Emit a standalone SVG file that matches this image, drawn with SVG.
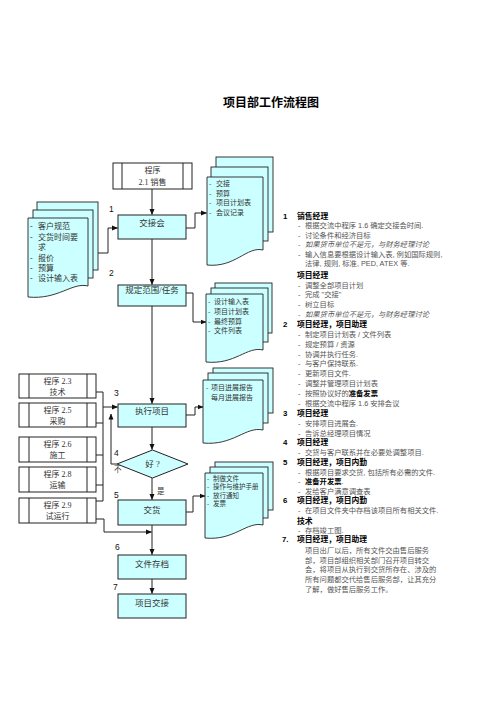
<svg xmlns="http://www.w3.org/2000/svg" width="496" height="701" viewBox="0 0 496 701">
<style>
.bx{fill:#ccffff;stroke:#222;stroke-width:1}
.pg{fill:#ccffff;stroke:#222;stroke-width:0.9}
.pr{fill:#fff;stroke:#222;stroke-width:1}
.ln{fill:none;stroke:#222;stroke-width:1}
.t{font-family:"Liberation Serif","Noto Sans CJK SC",serif;fill:#333}
.bt{font-size:8.5px;text-anchor:middle}
.pt{font-size:8px;text-anchor:middle}
.dt{font-size:7px}
.lb{font-family:"Liberation Sans",sans-serif;font-size:8.5px;fill:#111}
.r{font-family:"Liberation Sans","Noto Sans CJK SC",sans-serif;font-size:7.3px;fill:#555}
.h{font-family:"Liberation Sans","Noto Sans CJK SC",sans-serif;font-size:7.8px;font-weight:bold;fill:#000}
.it{font-style:italic}
</style>
<defs>
<marker id="arr" markerWidth="6" markerHeight="6" refX="5.5" refY="3" orient="auto" markerUnits="userSpaceOnUse"><path d="M0,0.5 L6,3 L0,5.5 Z" fill="#111"/></marker>
</defs>
<rect width="496" height="701" fill="#fff"/>
<text x="271" y="107" font-family="Liberation Sans,Noto Sans CJK SC,sans-serif" font-size="12" font-weight="bold" text-anchor="middle" fill="#000">项目部工作流程图</text>

<g id="connectors">
<path class="ln" d="M152,189 V214.5" marker-end="url(#arr)"/>
<path class="ln" d="M152,239 V284.5" marker-end="url(#arr)"/>
<path class="ln" d="M152,306 V403.5" marker-end="url(#arr)"/>
<path class="ln" d="M152,427 V449.5" marker-end="url(#arr)"/>
<path class="ln" d="M152,478 V499.5" marker-end="url(#arr)"/>
<path class="ln" d="M152,525 V554.5" marker-end="url(#arr)"/>
<path class="ln" d="M152,579 V593.5" marker-end="url(#arr)"/>
<path class="ln" d="M88,253 H108 V228 H117.5" marker-end="url(#arr)"/>
<path class="ln" d="M186,228 H195 V213 H206.5" marker-end="url(#arr)"/>
<path class="ln" d="M186,293 H193 V322 H206" marker-end="url(#arr)"/>
<path class="ln" d="M186,415 H195 V407 H203" marker-end="url(#arr)"/>
<path class="ln" d="M186,512 H193 V496 H205" marker-end="url(#arr)"/>
<path class="ln" d="M96,392 H103 V501 H96 M96,423 H103 M96,455 H103 M96,485 H103"/>
<path class="ln" d="M103,407 H117.5" marker-end="url(#arr)"/>
<path class="ln" d="M96,519 H104 V532 H151.5" marker-end="url(#arr)"/>
<path class="ln" d="M117,464 H111 V414" marker-end="url(#arr)"/>
</g>

<g id="labels">
<text class="lb" x="109" y="212">1</text>
<text class="lb" x="109" y="276">2</text>
<text class="lb" x="114" y="396">3</text>
<text class="lb" x="114" y="456">4</text>
<text class="t" x="114" y="472" font-size="7.5">不</text>
<text class="lb" x="114" y="498">5</text>
<text class="t" x="157" y="494" font-size="7.5">是</text>
<text class="lb" x="115" y="550">6</text>
<text class="lb" x="113" y="590">7</text>
</g>

<g id="prog21">
<rect class="pr" x="113" y="163" width="79" height="26"/>
<path class="ln" d="M122,163 V189 M183,163 V189"/>
<text class="t pt" x="152.5" y="173">程序</text>
<text class="t pt" x="152.5" y="185">2.1 销售</text>
</g>

<g id="jiaojiehui">
<rect class="bx" x="118" y="215" width="68" height="24"/>
<text class="t bt" x="152" y="226">交接会</text>
</g>
<g id="guiding">
<rect class="bx" x="118" y="285" width="68" height="21"/>
<text class="t bt" x="152" y="293">规定范围/任务</text>
</g>
<g id="zhixing">
<rect class="bx" x="118" y="404" width="68" height="23"/>
<text class="t bt" x="152" y="414">执行项目</text>
</g>
<g id="hao">
<path class="bx" d="M117,464 L152.5,450 L188,464 L152.5,478 Z"/>
<text class="t bt" x="152.5" y="467">好 ?</text>
</g>
<g id="jiaohuo">
<rect class="bx" x="118" y="500" width="68" height="25"/>
<text class="t bt" x="152" y="513">交货</text>
</g>
<g id="cundang">
<rect class="bx" x="118" y="555" width="68" height="24"/>
<text class="t bt" x="152" y="567">文件存档</text>
</g>
<g id="xiangmujiaojie">
<rect class="bx" x="118" y="594" width="68" height="24"/>
<text class="t bt" x="152" y="606">项目交接</text>
</g>

<g id="prog23">
<rect class="pr" x="19" y="374" width="77" height="24"/>
<path class="ln" d="M29,374 V398 M87,374 V398"/>
<text class="t pt" x="57.5" y="384">程序 2.3</text>
<text class="t pt" x="57.5" y="395">技术</text>
</g>
<g id="prog25">
<rect class="pr" x="19" y="403" width="77" height="24"/>
<path class="ln" d="M29,403 V427 M87,403 V427"/>
<text class="t pt" x="57.5" y="413">程序 2.5</text>
<text class="t pt" x="57.5" y="424">采购</text>
</g>
<g id="prog26">
<rect class="pr" x="19" y="437" width="77" height="25"/>
<path class="ln" d="M29,437 V462 M87,437 V462"/>
<text class="t pt" x="57.5" y="447">程序 2.6</text>
<text class="t pt" x="57.5" y="458">施工</text>
</g>
<g id="prog28">
<rect class="pr" x="19" y="467" width="77" height="25"/>
<path class="ln" d="M29,467 V492 M87,467 V492"/>
<text class="t pt" x="57.5" y="477">程序 2.8</text>
<text class="t pt" x="57.5" y="488">运输</text>
</g>
<g id="prog29">
<rect class="pr" x="19" y="498" width="77" height="25"/>
<path class="ln" d="M29,498 V523 M87,498 V523"/>
<text class="t pt" x="57.5" y="508">程序 2.9</text>
<text class="t pt" x="57.5" y="519">试运行</text>
</g>

<g id="doc-left">
<rect class="pg" x="37" y="202" width="61" height="68"/>
<rect class="pg" x="33" y="210" width="60" height="68"/>
<path class="pg" d="M28,218 H88 V286 C72,282 58,300 28,297 Z"/>
<g class="t" font-size="8">
<text x="30" y="229">-</text><text x="38" y="229">客户规范</text>
<text x="30" y="239.5">-</text><text x="38" y="239.5">交货时间要</text>
<text x="38" y="250">求</text>
<text x="30" y="260.5">-</text><text x="38" y="260.5">报价</text>
<text x="30" y="271">-</text><text x="38" y="271">预算</text>
<text x="30" y="281">-</text><text x="38" y="281">设计输入表</text>
</g>
</g>

<g id="doc1">
<rect class="pg" x="216" y="157" width="57" height="75"/>
<rect class="pg" x="211" y="167" width="57" height="74"/>
<path class="pg" d="M207,177 H263 V250 C247,246 235,268 207,265 Z"/>
<g class="t dt">
<text x="209" y="186">-</text><text x="216" y="186">交接</text>
<text x="209" y="195.5">-</text><text x="216" y="195.5">预算</text>
<text x="209" y="205">-</text><text x="216" y="205">项目计划表</text>
<text x="209" y="214.5">-</text><text x="216" y="214.5">会议记录</text>
</g>
</g>

<g id="doc2">
<rect class="pg" x="215" y="283" width="57" height="50"/>
<rect class="pg" x="211" y="288" width="57" height="54"/>
<path class="pg" d="M206,294 H263 V350 C247,346 235,365 206,362 Z"/>
<g class="t dt">
<text x="208" y="304">-</text><text x="214" y="304">设计输入表</text>
<text x="208" y="314">-</text><text x="214" y="314">项目计划表</text>
<text x="208" y="323.5">-</text><text x="214" y="323.5">最终预算</text>
<text x="208" y="333">-</text><text x="214" y="333">文件列表</text>
</g>
</g>

<g id="doc3">
<rect class="pg" x="213" y="368" width="60" height="45"/>
<rect class="pg" x="208" y="373" width="60" height="50"/>
<path class="pg" d="M203,380 H263 V430 C246,426 233,446 203,443 Z"/>
<g class="t dt">
<text x="206" y="389.5">-</text><text x="211" y="389.5">项目进展报告</text>
<text x="211" y="399.5">每月进展报告</text>
</g>
</g>

<g id="doc4">
<rect class="pg" x="215" y="462" width="58" height="48"/>
<rect class="pg" x="210" y="467" width="58" height="51"/>
<path class="pg" d="M205,473 H263 V525 C247,521 234,541 205,538 Z"/>
<g class="t" font-size="6.5">
<text x="207" y="480.5">-</text><text x="213" y="480.5">制做文件</text>
<text x="207" y="489">-</text><text x="213" y="489">操作与维护手册</text>
<text x="207" y="497.5">-</text><text x="213" y="497.5">放行通知</text>
<text x="207" y="506">-</text><text x="213" y="506">发票</text>
</g>
</g>

<g id="notes">
<text class="h" x="283" y="219">1</text><text class="h" x="297" y="219">销售经理</text>
<text class="r" x="298" y="228">-</text><text class="r" x="305" y="228">根据交流中程序 1.6 确定交接会时间.</text>
<text class="r" x="298" y="237.5">-</text><text class="r" x="305" y="237.5">讨论条件和经济目标</text>
<text class="r it" x="298" y="247">-</text><text class="r it" x="305" y="247">如果货币单位不是元，与财务经理讨论</text>
<text class="r" x="298" y="256.5">-</text><text class="r" x="305" y="256.5">输入信息要根据设计输入表, 例如国际规则,</text>
<text class="r" x="305" y="266">法律, 规则, 标准, PED, ATEX 等.</text>
<text class="h" x="297" y="278">项目经理</text>
<text class="r" x="298" y="288">-</text><text class="r" x="305" y="288">调整全部项目计划</text>
<text class="r" x="298" y="297">-</text><text class="r" x="305" y="297">完成 "交接"</text>
<text class="r" x="298" y="307">-</text><text class="r" x="305" y="307">树立目标</text>
<text class="r it" x="298" y="317">-</text><text class="r it" x="305" y="317">如果货币单位不是元，与财务经理讨论</text>
<text class="h" x="283" y="327">2</text><text class="h" x="297" y="327">项目经理，项目助理</text>
<text class="r" x="298" y="336.5">-</text><text class="r" x="305" y="336.5">制定项目计划表 / 文件列表</text>
<text class="r" x="298" y="347">-</text><text class="r" x="305" y="347">规定预算 / 资源</text>
<text class="r" x="298" y="356.5">-</text><text class="r" x="305" y="356.5">协调并执行任务.</text>
<text class="r" x="298" y="366">-</text><text class="r" x="305" y="366">与客户保持联系.</text>
<text class="r" x="298" y="376">-</text><text class="r" x="305" y="376">更新项目文件.</text>
<text class="r" x="298" y="386">-</text><text class="r" x="305" y="386">调整并管理项目计划表</text>
<text class="r" x="298" y="396">-</text><text class="r" x="305" y="396">按照协议好的<tspan font-weight="bold" fill="#000">准备发票</tspan></text>
<text class="r" x="298" y="406">-</text><text class="r" x="305" y="406">根据交流中程序 1.6 安排会议</text>
<text class="h" x="283" y="416">3</text><text class="h" x="297" y="416">项目经理</text>
<text class="r" x="298" y="426">-</text><text class="r" x="305" y="426">安排项目进展会.</text>
<text class="r" x="298" y="435.5">-</text><text class="r" x="305" y="435.5">告诉总经理项目情况</text>
<text class="h" x="283" y="445">4</text><text class="h" x="297" y="445">项目经理</text>
<text class="r" x="298" y="455">-</text><text class="r" x="305" y="455">交货与客户联系并在必要处调整项目.</text>
<text class="h" x="283" y="465">5</text><text class="h" x="297" y="465">项目经理，项目内勤</text>
<text class="r" x="298" y="475">-</text><text class="r" x="305" y="475">根据项目要求交货, 包括所有必需的文件.</text>
<text class="r" x="298" y="484">-</text><text class="r" x="305" y="484"><tspan font-weight="bold" fill="#000">准备开发票</tspan>.</text>
<text class="r" x="298" y="493.5">-</text><text class="r" x="305" y="493.5">发给客户满意调查表</text>
<text class="h" x="283" y="503">6</text><text class="h" x="297" y="503">项目经理，项目内勤</text>
<text class="r" x="298" y="513">-</text><text class="r" x="305" y="513">在项目文件夹中存档该项目所有相关文件.</text>
<text class="h" x="297" y="524">技术</text>
<text class="r" x="298" y="532.5">-</text><text class="r" x="305" y="532.5">存档竣工图.</text>
<text class="h" x="282" y="542">7.</text><text class="h" x="297" y="542">项目经理，项目助理</text>
<text class="r" x="305" y="553">项目出厂以后，所有文件交由售后服务</text>
<text class="r" x="305" y="562.5">部，项目部组织相关部门召开项目转交</text>
<text class="r" x="305" y="572">会，将项目从执行到交货所存在、涉及的</text>
<text class="r" x="305" y="582">所有问题都交代给售后服务部，让其充分</text>
<text class="r" x="305" y="591.5">了解，做好售后服务工作。</text>
</g>
</svg>
